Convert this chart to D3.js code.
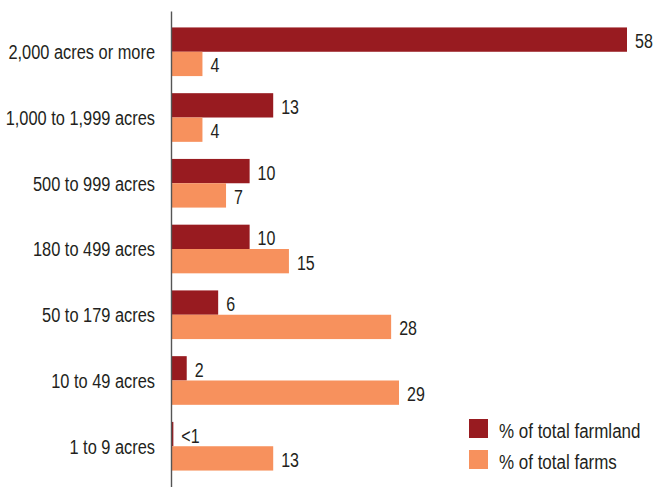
<!DOCTYPE html>
<html>
<head>
<meta charset="utf-8">
<script src="https://cdn.jsdelivr.net/npm/d3@7"></script>
<style>
  body { margin: 0; background: #fff; }
  text { font-family: 'Liberation Sans', Arial, sans-serif; fill: #231f20; }
</style>
</head>
<body>
<div id="chart"></div>
<script>
const categories = [
  '2,000 acres or more',
  '1,000 to 1,999 acres',
  '500 to 999 acres',
  '180 to 499 acres',
  '50 to 179 acres',
  '10 to 49 acres',
  '1 to 9 acres'
]

const seriesNames = ['% of total farmland', '% of total farms']

const farmland = [58, 13, 10, 10, 6, 2, 0.3]
const farmlandLabels = ['58', '13', '10', '10', '6', '2', '<1']

const farms = [4, 4, 7, 15, 28, 29, 13]
const farmsLabels = ['4', '4', '7', '15', '28', '29', '13']

const colors = ['#981b20', '#f7915d']

const width = 654
const height = 487
const axisX = 171

// no condensed font installed, so squeeze the glyphs a bit
function condense(selection, k) {
  selection.each(function () {
    const len = this.getComputedTextLength()
    d3.select(this)
      .attr('textLength', len * k)
      .attr('lengthAdjust', 'spacingAndGlyphs')
  })
}

const svg = d3
  .select('#chart')
  .append('svg')
  .attr('width', width)
  .attr('height', height)

const yGroup = d3
  .scaleBand()
  .domain(categories)
  .range([11, 487])
  .paddingInner(0.26)
  .paddingOuter(0.25)

const ySeries = d3
  .scaleBand()
  .domain([0, 1])
  .range([0, yGroup.bandwidth()])

const x = d3
  .scaleLinear()
  .domain([0, 58])
  .range([axisX, 627])

const rows = categories.map((c, i) => ({
  category: c,
  values: [
    { s: 0, value: farmland[i], label: farmlandLabels[i] },
    { s: 1, value: farms[i], label: farmsLabels[i] }
  ]
}))

const group = svg
  .selectAll('.group')
  .data(rows)
  .enter()
  .append('g')
  .attr('class', 'group')
  .attr('transform', d => 'translate(0,' + yGroup(d.category) + ')')

group
  .selectAll('rect')
  .data(d => d.values)
  .enter()
  .append('rect')
  .attr('x', x(0))
  .attr('y', d => ySeries(d.s))
  .attr('width', d => x(d.value) - x(0))
  .attr('height', ySeries.bandwidth())
  .attr('fill', d => colors[d.s])

group
  .selectAll('.value')
  .data(d => d.values)
  .enter()
  .append('text')
  .attr('class', 'value')
  .attr('x', d => x(d.value) + 8)
  .attr('y', d => ySeries(d.s) + ySeries.bandwidth() / 2 + 8.5)
  .attr('font-size', 20)
  .text(d => d.label)
  .call(condense, 0.8)

// category axis
const yAxis = d3
  .axisLeft(yGroup)
  .tickSize(0)
  .tickSizeOuter(0)
  .tickPadding(16)

svg
  .append('g')
  .attr('class', 'axis y-axis')
  .attr('transform', 'translate(' + axisX + ',0)')
  .call(yAxis)

svg.select('.y-axis .domain').attr('stroke', '#555').attr('stroke-width', 1.4)
svg
  .selectAll('.y-axis text')
  .attr('font-size', 19.5)
  .attr('fill', '#231f20')
  .attr('dy', '0.38em')
  .style('font-family', null)
  .call(condense, 0.84)

// legend
const legend = svg
  .append('g')
  .selectAll('g')
  .data(seriesNames)
  .enter()
  .append('g')
  .attr('transform', (d, i) => 'translate(469,' + (419 + i * 31) + ')')

legend
  .append('rect')
  .attr('width', 19)
  .attr('height', 19)
  .attr('fill', (d, i) => colors[i])

legend
  .append('text')
  .attr('x', 30)
  .attr('y', 19)
  .attr('font-size', 19.5)
  .text(d => d)
  .call(condense, 0.87)
</script>
</body>
</html>
